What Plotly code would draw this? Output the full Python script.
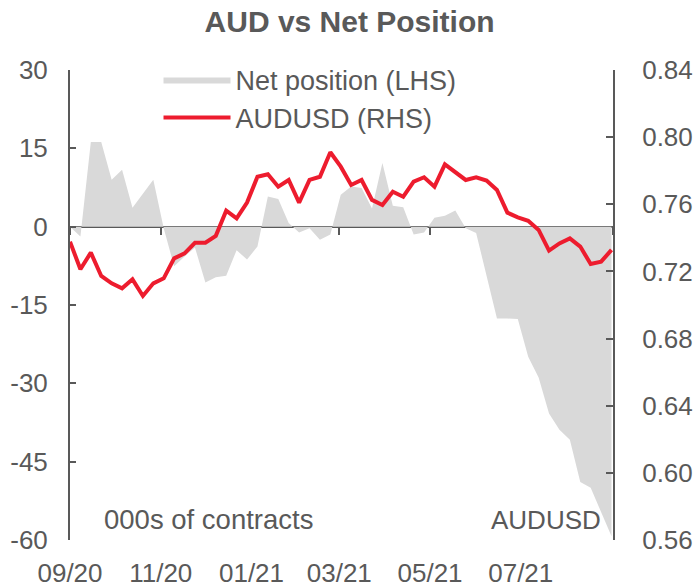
import pandas as pd
import plotly.graph_objects as go

# ---- data ----
start_date = "2020-09-01"
net_position = [0.0, -1.9, 16.2, 16.2, 9.0, 10.9, 3.6, 6.3, 9.0, -0.3,
                -7.6, -5.7, -4.0, -10.7, -9.7, -9.4, -4.5, -6.3, -3.8, 5.8,
                5.3, 0.7, -1.1, -0.3, -2.5, -1.5, 6.1, 7.7, 7.4, 3.5,
                12.2, 4.0, 3.7, -1.5, -1.1, 1.7, 2.1, 3.1, -0.3, -1.2,
                -9.4, -17.6, -17.6, -17.7, -24.9, -28.9, -35.8, -38.9, -40.8, -48.9,
                -50.0, -54.8, -59.3]
audusd = [0.7377, 0.7213, 0.7312, 0.7173, 0.7129, 0.7099, 0.7153, 0.7054, 0.7129, 0.7159,
          0.7278, 0.7308, 0.7371, 0.7371, 0.7412, 0.7562, 0.7516, 0.7610, 0.7764, 0.7779,
          0.7705, 0.7745, 0.7610, 0.7745, 0.7764, 0.7910, 0.7824, 0.7715, 0.7745, 0.7626,
          0.7596, 0.7675, 0.7645, 0.7735, 0.7761, 0.7705, 0.7838, 0.7794, 0.7745, 0.7761,
          0.7741, 0.7685, 0.7550, 0.7522, 0.7502, 0.7447, 0.7324, 0.7367, 0.7397, 0.7348,
          0.7244, 0.7258, 0.7328]
tick_dates = ["2020-09-01", "2020-11-01", "2021-01-01", "2021-03-01",
              "2021-05-01", "2021-07-01", "2021-09-01"]
tick_labels = ["09/20", "11/20", "01/21", "03/21", "05/21", "07/21", ""]
left_ticks = [-60, -45, -30, -15, 0, 15, 30]
right_ticks = [0.56, 0.60, 0.64, 0.68, 0.72, 0.76, 0.80, 0.84]
left_range = [-60, 30]
right_range = [0.56, 0.84]

dates = pd.date_range(start_date, periods=len(net_position), freq="7D")

GREY_TXT = "#595959"
FONT = "Liberation Sans, Arial, sans-serif"

fig = go.Figure()
fig.add_trace(go.Scatter(
    x=dates, y=net_position, name="Net position (LHS)",
    mode="lines", fill="tozeroy", fillcolor="#D9D9D9",
    line=dict(width=0, color="#D9D9D9"),
    xaxis="x", yaxis="y"))
fig.add_trace(go.Scatter(
    x=dates, y=audusd, name="AUDUSD (RHS)",
    mode="lines", line=dict(width=4, color="#ED1C2E"),
    xaxis="x2", yaxis="y2"))

zero_pos = (0 - left_range[0]) / (left_range[1] - left_range[0])
xrange = [tick_dates[0], tick_dates[-1]]

fig.update_layout(
    width=695, height=588,
    margin=dict(l=70, r=82, t=70, b=48, autoexpand=False),
    paper_bgcolor="white", plot_bgcolor="white",
    font=dict(family=FONT, size=26, color=GREY_TXT),
    title=dict(text="<b>AUD vs Net Position</b>", x=0.503, xanchor="center",
               y=1 - 21 / 588, yanchor="middle",
               font=dict(family=FONT, size=30, color=GREY_TXT)),
    showlegend=True,
    legend=dict(x=0.163, y=1.031, xanchor="left", yanchor="top",
                bgcolor="rgba(0,0,0,0)", font=dict(size=27, color=GREY_TXT),
                itemwidth=67, tracegroupgap=0),
    xaxis=dict(range=xrange, tickvals=tick_dates, ticktext=tick_labels,
               automargin=False,
               showgrid=False, zeroline=False, showline=False,
               ticks="outside", ticklen=10, tickcolor="rgba(0,0,0,0)",
               tickfont=dict(size=26, color=GREY_TXT)),
    xaxis2=dict(range=xrange, overlaying="x", anchor="free", position=zero_pos,
                tickvals=tick_dates, showticklabels=False, automargin=False,
                showgrid=False, zeroline=False, showline=True,
                linecolor=GREY_TXT, linewidth=2,
                ticks="outside", ticklen=7, tickwidth=2, tickcolor=GREY_TXT,
                layer="below traces"),
    yaxis=dict(range=left_range, tickvals=left_ticks,
               ticktext=[str(v) for v in left_ticks], automargin=False,
               showgrid=False, zeroline=False, showline=True,
               linecolor=GREY_TXT, linewidth=2,
               ticks="inside", ticklen=6, tickwidth=2, tickcolor=GREY_TXT,
               ticklabelstandoff=15, tickfont=dict(size=26, color=GREY_TXT)),
    yaxis2=dict(range=right_range, tickvals=right_ticks,
                ticktext=[f"{v:.2f}" for v in right_ticks],
                overlaying="y", side="right", anchor="x2", automargin=False,
                showgrid=False, zeroline=False, showline=True,
                linecolor=GREY_TXT, linewidth=2,
                ticks="inside", ticklen=7, tickwidth=2, tickcolor=GREY_TXT,
                ticklabelstandoff=22, tickfont=dict(size=26, color=GREY_TXT)),
    annotations=[
        dict(text="000s of contracts", xref="paper", yref="paper",
             x=0.059, y=0.043, xanchor="left", yanchor="middle",
             showarrow=False, font=dict(size=27.5, color=GREY_TXT)),
        dict(text="AUDUSD", xref="paper", yref="paper",
             x=0.982, y=0.043, xanchor="right", yanchor="middle",
             showarrow=False, font=dict(size=26, color=GREY_TXT)),
    ],
)

fig.write_html("out.html",
               config={"displayModeBar": False},
               post_script="document.body.style.margin='0';"
                           "document.body.style.overflow='hidden';")
